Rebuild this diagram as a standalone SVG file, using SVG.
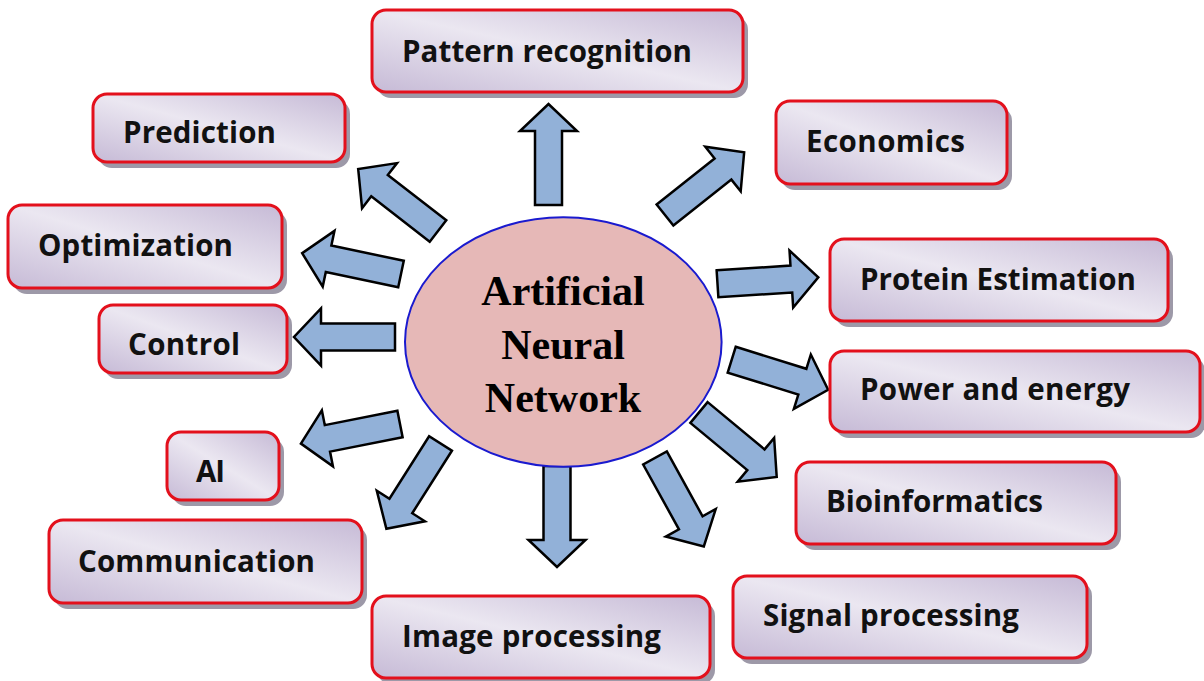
<svg xmlns="http://www.w3.org/2000/svg" xmlns:xlink="http://www.w3.org/1999/xlink" width="1204" height="681" viewBox="0 0 1204 681">
<style>
.shadow{fill:#9d99a8}
.box{fill:url(#boxg);stroke:#e3101c;stroke-width:3}
.lbl{font-family:"Open Sans",Lato,"Liberation Sans",sans-serif;font-weight:700;font-size:29.5px;fill:#111}
.arr{fill:#92b1d8;stroke:#000;stroke-width:2.5;stroke-linejoin:miter}
.core{fill:#e6b8b7;stroke:#1a1acf;stroke-width:2}
.ct{font-family:"Liberation Serif","Times New Roman",serif;font-weight:700;font-size:42px;fill:#000;text-anchor:middle}
</style>
<defs>
<linearGradient id="boxg" x1="0" y1="1" x2="1" y2="0">
<stop offset="0" stop-color="#c6bad6"/>
<stop offset="0.5" stop-color="#ebe7f1"/>
<stop offset="1" stop-color="#c6bad6"/>
</linearGradient>
<path id="arrow" d="M0,-13.5 L74,-13.5 L74,-28.5 L101,0 L74,28.5 L74,13.5 L0,13.5 Z"/>
</defs>
<rect width="1204" height="681" fill="#fff"/>

<g id="connectors">
<use href="#arrow" class="arr" transform="translate(548.5,205) rotate(-90)"/>
<use href="#arrow" class="arr" transform="translate(438,231) rotate(217.8)"/>
<use href="#arrow" class="arr" transform="translate(401,274) rotate(191.9)"/>
<use href="#arrow" class="arr" transform="translate(395,337) rotate(180)"/>
<use href="#arrow" class="arr" transform="translate(400,424) rotate(168.8)"/>
<use href="#arrow" class="arr" transform="translate(440.5,443.5) rotate(122.4)"/>
<use href="#arrow" class="arr" transform="translate(557,466) rotate(90)"/>
<use href="#arrow" class="arr" transform="translate(655,458) rotate(61.1)"/>
<use href="#arrow" class="arr" transform="translate(699,412.5) rotate(39.7)"/>
<use href="#arrow" class="arr" transform="translate(731.7,359.7) rotate(17.3)"/>
<use href="#arrow" class="arr" transform="translate(717.5,283.8) rotate(-3.7)"/>
<use href="#arrow" class="arr" transform="translate(665,215) rotate(-38.4)"/>
</g>

<g id="ann">
<ellipse class="core" cx="563.3" cy="342" rx="158.3" ry="124.7"/>
<text class="ct" x="563" y="305">Artificial</text>
<text class="ct" x="563" y="359">Neural</text>
<text class="ct" x="563" y="412">Network</text>
</g>

<g id="pattern-recognition">
<rect class="shadow" x="377" y="16" width="371" height="82" rx="14"/>
<rect class="box" x="372" y="10" width="371" height="82" rx="14"/>
<text class="lbl" x="402" y="62" textLength="290">Pattern recognition</text>
</g>
<g id="prediction">
<rect class="shadow" x="98" y="100" width="252" height="68" rx="14"/>
<rect class="box" x="93" y="94" width="252" height="68" rx="14"/>
<text class="lbl" x="123" y="143" textLength="153">Prediction</text>
</g>
<g id="economics">
<rect class="shadow" x="781" y="107" width="231" height="83" rx="14"/>
<rect class="box" x="776" y="101" width="231" height="83" rx="14"/>
<text class="lbl" x="806" y="152" textLength="159">Economics</text>
</g>
<g id="optimization">
<rect class="shadow" x="13" y="211" width="274" height="83" rx="14"/>
<rect class="box" x="8" y="205" width="274" height="83" rx="14"/>
<text class="lbl" x="38" y="256" textLength="195">Optimization</text>
</g>
<g id="protein-estimation">
<rect class="shadow" x="835" y="245" width="338" height="82" rx="14"/>
<rect class="box" x="830" y="239" width="338" height="82" rx="14"/>
<text class="lbl" x="860" y="290" textLength="276">Protein Estimation</text>
</g>
<g id="control">
<rect class="shadow" x="104" y="311" width="188" height="68" rx="14"/>
<rect class="box" x="99" y="305" width="188" height="68" rx="14"/>
<text class="lbl" x="128" y="355" textLength="112">Control</text>
</g>
<g id="power-and-energy">
<rect class="shadow" x="835" y="357" width="370" height="81" rx="14"/>
<rect class="box" x="830" y="351" width="370" height="81" rx="14"/>
<text class="lbl" x="860" y="400" textLength="270">Power and energy</text>
</g>
<g id="ai">
<rect class="shadow" x="172" y="438" width="112" height="68" rx="14"/>
<rect class="box" x="167" y="432" width="112" height="68" rx="14"/>
<text class="lbl" x="196" y="482" textLength="29">AI</text>
</g>
<g id="bioinformatics">
<rect class="shadow" x="801" y="468" width="320" height="82" rx="14"/>
<rect class="box" x="796" y="462" width="320" height="82" rx="14"/>
<text class="lbl" x="826" y="512" textLength="217">Bioinformatics</text>
</g>
<g id="communication">
<rect class="shadow" x="54" y="526" width="313" height="83" rx="14"/>
<rect class="box" x="49" y="520" width="313" height="83" rx="14"/>
<text class="lbl" x="78" y="572" textLength="237">Communication</text>
</g>
<g id="signal-processing">
<rect class="shadow" x="738" y="582" width="354" height="82" rx="14"/>
<rect class="box" x="733" y="576" width="354" height="82" rx="14"/>
<text class="lbl" x="763" y="626" textLength="256">Signal processing</text>
</g>
<g id="image-processing">
<rect class="shadow" x="377" y="602" width="338" height="82" rx="14"/>
<rect class="box" x="372" y="596" width="338" height="82" rx="14"/>
<text class="lbl" x="402" y="647" textLength="259">Image processing</text>
</g>
</svg>
